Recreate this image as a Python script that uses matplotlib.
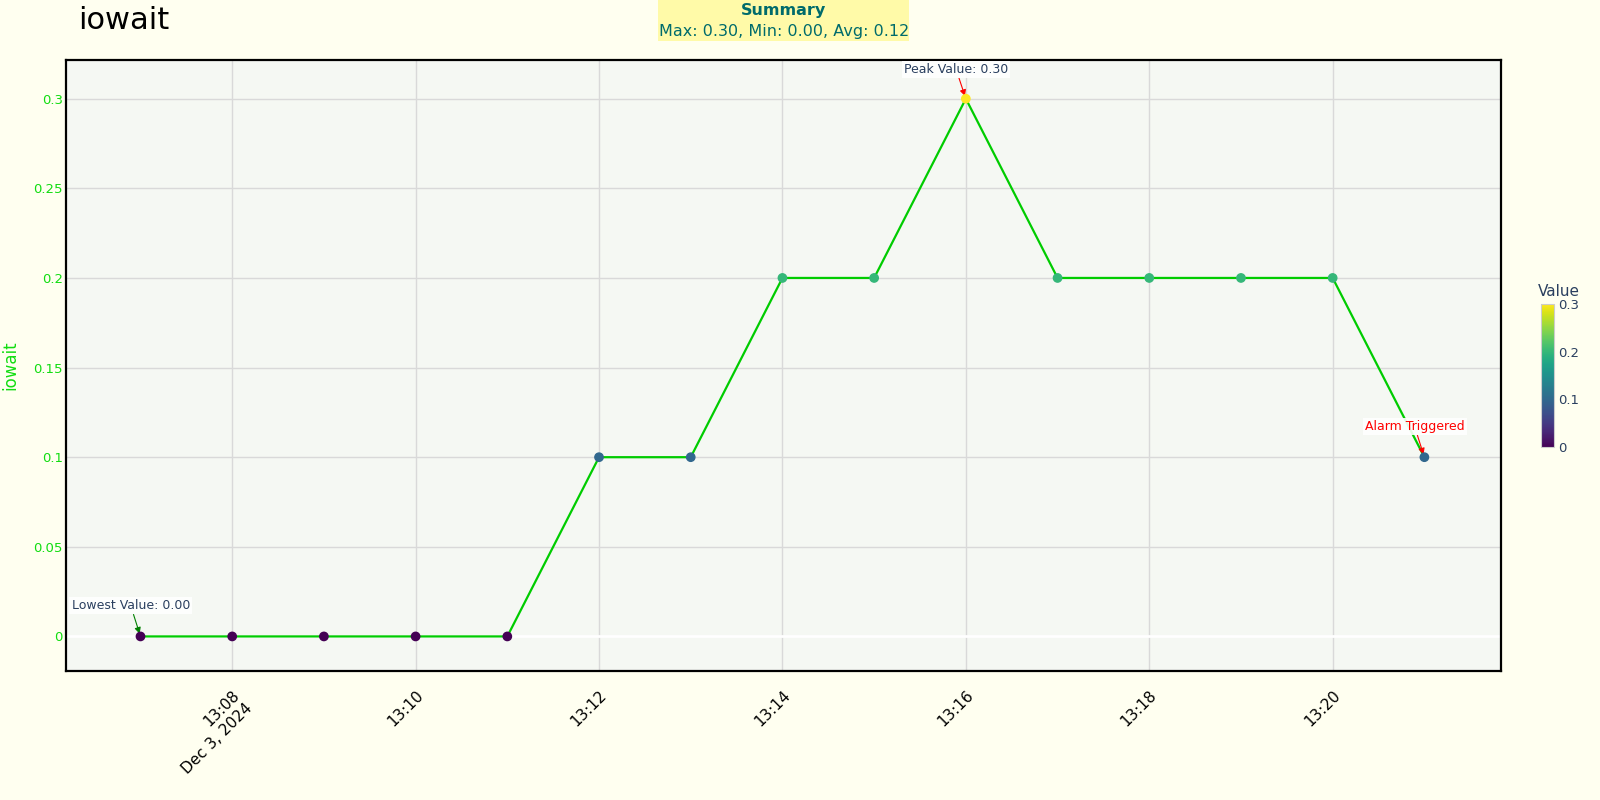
import numpy as np
import pandas as pd
import matplotlib
matplotlib.use("Agg")
import matplotlib.pyplot as plt
from matplotlib.colors import Normalize

# data
times = pd.date_range("2024-12-03 13:07", "2024-12-03 13:21", freq="1min")
values = [0.0, 0.0, 0.0, 0.0, 0.0, 0.1, 0.1, 0.2, 0.2, 0.3, 0.2, 0.2, 0.2, 0.2, 0.1]
title = "iowait"

vals = np.array(values)
vmax, vmin, vavg = vals.max(), vals.min(), vals.mean()

fig = plt.figure(figsize=(16, 8), dpi=100, facecolor="#fffff0")
ax = fig.add_axes([0.041, 0.161, 0.897, 0.764])
ax.set_facecolor("#f5f8f3")

cmap = plt.get_cmap("viridis")
norm = Normalize(0, 0.3)

ax.plot(times, vals, color="#00cc00", lw=1.6, zorder=3)
ax.scatter(times, vals, c=vals, cmap=cmap, norm=norm, s=36, zorder=4)

ax.set_xlim(pd.Timestamp("2024-12-03 13:06:11"), pd.Timestamp("2024-12-03 13:21:50"))
ax.set_ylim(-0.0194, 0.3216)

ax.grid(True, color="#d9d9d9", lw=1)
ax.axhline(0, color="white", lw=2, zorder=2)
for s in ax.spines.values():
    s.set_linewidth(1.6)
    s.set_color("black")

ticks = pd.date_range("2024-12-03 13:08", "2024-12-03 13:20", freq="2min")
labels = [t.strftime("%H:%M") for t in ticks]
labels[0] += "\nDec 3, 2024"
ax.set_xticks(ticks)
ax.set_xticklabels(labels, rotation=45, ha="right", va="top", fontsize=11,
                   rotation_mode="anchor")
ax.set_yticks([0, 0.05, 0.1, 0.15, 0.2, 0.25, 0.3])
ax.set_yticklabels(["0", "0.05", "0.1", "0.15", "0.2", "0.25", "0.3"])
ax.tick_params(axis="y", colors="#11dd11", labelsize=9.5, length=0, pad=2)
ax.tick_params(axis="x", length=0, pad=12)
ax.set_ylabel(title, color="#11dd11", fontsize=12)
ax.yaxis.set_label_coords(-0.0325, 0.5)

fig.text(0.049, 0.974, title, fontsize=22, va="center", ha="left")

fig.patches.append(plt.Rectangle((0.411, 0.949), 0.157, 0.051, transform=fig.transFigure,
                                 facecolor="#fffaa8", edgecolor="none", zorder=0))
fig.text(0.49, 0.987, "Summary", fontsize=11.5, fontweight="bold", color="#006b6b",
         ha="center", va="center")
fig.text(0.49, 0.961, f"Max: {vmax:.2f}, Min: {vmin:.2f}, Avg: {vavg:.2f}",
         fontsize=11.5, color="#006b6b", ha="center", va="center")

imax = int(vals.argmax())
imin = int(vals.argmin())
box = dict(facecolor="white", edgecolor="none", pad=1.5, alpha=0.9)
ax.annotate(f"Peak Value: {vmax:.2f}", xy=(times[imax], vals[imax]),
            xytext=(-7, 21), textcoords="offset points", ha="center", va="center",
            fontsize=9, color="#2a3f5f", bbox=box,
            arrowprops=dict(arrowstyle="-|>", color="red", lw=0.8, shrinkA=0, shrinkB=2))
ax.annotate(f"Lowest Value: {vmin:.2f}", xy=(times[imin], vals[imin]),
            xytext=(-7, 22), textcoords="offset points", ha="center", va="center",
            fontsize=9, color="#2a3f5f", bbox=box,
            arrowprops=dict(arrowstyle="-|>", color="green", lw=0.8, shrinkA=0, shrinkB=2))
ax.annotate("Alarm Triggered", xy=(times[-1], vals[-1]),
            xytext=(-7, 22), textcoords="offset points", ha="center", va="center",
            fontsize=9, color="red", bbox=box,
            arrowprops=dict(arrowstyle="-|>", color="red", lw=0.8, shrinkA=0, shrinkB=2))

cax = fig.add_axes([0.963, 0.441, 0.0085, 0.179])
cb = fig.colorbar(plt.cm.ScalarMappable(norm=norm, cmap=cmap), cax=cax)
cb.set_ticks([0, 0.1, 0.2, 0.3])
cb.set_ticklabels(["0", "0.1", "0.2", "0.3"])
cb.outline.set_edgecolor("#cccccc")
cax.tick_params(length=0, labelsize=9.5, colors="#2a3f5f", pad=3)
fig.text(0.974, 0.635, "Value", fontsize=11, color="#2a3f5f", ha="center", va="center")

fig.savefig("out.png", dpi=100, facecolor=fig.get_facecolor())
